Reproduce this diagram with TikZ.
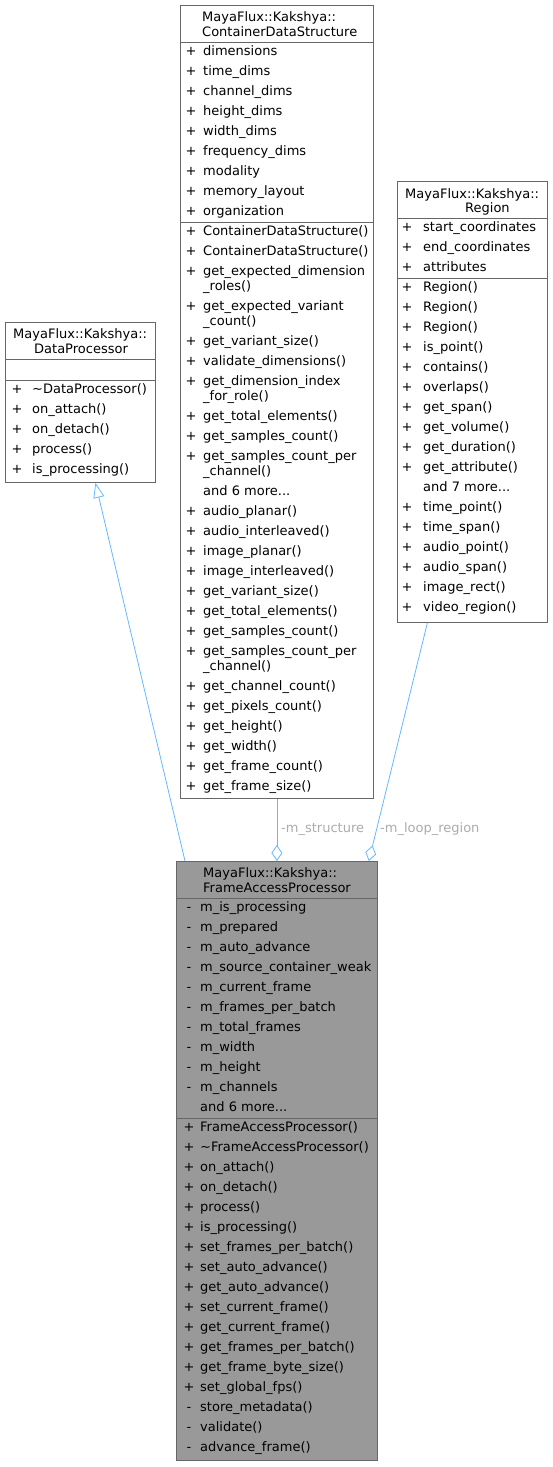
\documentclass[tikz,border=0pt]{standalone}
\usepackage{fontspec}
\setmainfont{DejaVu Sans}
\usepackage{xcolor}
\usetikzlibrary{arrows.meta}

\definecolor{boxline}{HTML}{666666}
\definecolor{boxgray}{HTML}{999999}
\definecolor{edgeblue}{HTML}{63B8FF}
\definecolor{labelgray}{HTML}{ABABAB}

\tikzset{
  classbox/.style={draw=boxline, line width=0.8pt, inner sep=0pt, anchor=north west},
  sepline/.style={draw=boxline, line width=0.8pt},
  member/.style={anchor=west, inner sep=0pt, text height=11pt, text depth=3pt},
  marker/.style={anchor=center, inner sep=0pt, text height=11pt, text depth=3pt},
  assoc/.style={draw=edgeblue, line width=0.8pt},
  rolelabel/.style={anchor=west, inner sep=0pt, text=labelgray},
}

% tre punti fuori dal \foreach
\newcommand{\etcdots}{...}

% righe di membri: prefisso, x segno, x nome, y prima riga, lista
\newcommand{\memberrows}[5]{%
  \foreach \mk/\nm [count=\i from 0] in {#5} {
    \node[marker] (#1k\i) at (#2,#4+20*\i) {\mk};
    \node[member] (#1n\i) at (#3,#4+20*\i) {\nm};
  }}

\begin{document}
\begin{tikzpicture}[x=1pt, y=-1pt, font=\fontsize{13}{15}\selectfont]
    \useasboundingbox (0,0) rectangle (553,1467);

    % Classe base
    \node[classbox, minimum width=150pt, minimum height=160pt] (dp) at (5,322) {};
    \node[member] (dpt1) at (13,334) {MayaFlux::Kakshya::};
    \node[member] (dpt2) at (34,349) {DataProcessor};
    \draw[sepline] (dp.west |- 0,359) -- (dp.east |- 0,359);
    \draw[sepline] (dp.west |- 0,380) -- (dp.east |- 0,380);
    \memberrows{dpm}{17}{32}{389}{+/\textasciitilde DataProcessor(), +/on\_attach(), +/on\_detach(), +/process(), +/is\_processing()}

    % Struttura del contenitore
    \node[classbox, minimum width=193pt, minimum height=793pt] (cds) at (180,5) {};
    \node[member] (cdst1) at (202,17) {MayaFlux::Kakshya::};
    \node[member] (cdst2) at (202,32) {ContainerDataStructure};
    \draw[sepline] (cds.west |- 0,42) -- (cds.east |- 0,42);
    \draw[sepline] (cds.west |- 0,222) -- (cds.east |- 0,222);
    \memberrows{cdsa}{191}{203}{51}{+/dimensions, +/time\_dims, +/channel\_dims, +/height\_dims, +/width\_dims, +/frequency\_dims, +/modality, +/memory\_layout, +/organization}
    \foreach \y/\mk/\nm in {231/+/ContainerDataStructure(), 251/+/ContainerDataStructure(),
        271/+/get\_expected\_dimension, 286/{}/\_roles(), 306/+/get\_expected\_variant, 321/{}/\_count(),
        341/+/get\_variant\_size(), 361/+/validate\_dimensions(), 381/+/get\_dimension\_index, 396/{}/\_for\_role(),
        416/+/get\_total\_elements(), 436/+/get\_samples\_count(), 456/+/get\_samples\_count\_per, 471/{}/\_channel(),
        491/{}/and 6 more\etcdots, 511/+/audio\_planar(), 531/+/audio\_interleaved(), 551/+/image\_planar(),
        571/+/image\_interleaved(), 591/+/get\_variant\_size(), 611/+/get\_total\_elements(), 631/+/get\_samples\_count(),
        651/+/get\_samples\_count\_per, 666/{}/\_channel(), 686/+/get\_channel\_count(), 706/+/get\_pixels\_count(),
        726/+/get\_height(), 746/+/get\_width(), 766/+/get\_frame\_count(), 786/+/get\_frame\_size()} {
      \node[marker] (cdsmk\y) at (191,\y) {\mk};
      \node[member] (cdsmn\y) at (203,\y) {\nm};
    }

    % Regione
    \node[classbox, minimum width=150pt, minimum height=441pt] (reg) at (397,181) {};
    \node[member] (regt1) at (405,194) {MayaFlux::Kakshya::};
    \node[member] (regt2) at (465,208) {Region};
    \draw[sepline] (reg.west |- 0,218) -- (reg.east |- 0,218);
    \draw[sepline] (reg.west |- 0,278) -- (reg.east |- 0,278);
    \memberrows{rga}{407}{423}{227}{+/start\_coordinates, +/end\_coordinates, +/attributes}
    \memberrows{rgm}{407}{423}{287}{+/Region(), +/Region(), +/Region(), +/is\_point(), +/contains(), +/overlaps(), +/get\_span(), +/get\_volume(), +/get\_duration(), +/get\_attribute(), {}/and 7 more\etcdots, +/time\_point(), +/time\_span(), +/audio\_point(), +/audio\_span(), +/image\_rect(), +/video\_region()}

    % Classe principale
    \node[classbox, fill=boxgray, minimum width=201pt, minimum height=599pt] (fap) at (176,861) {};
    \node[member] (fapt1) at (203,873) {MayaFlux::Kakshya::};
    \node[member] (fapt2) at (203,888) {FrameAccessProcessor};
    \draw[sepline] (fap.west |- 0,898) -- (fap.east |- 0,898);
    \draw[sepline] (fap.west |- 0,1118) -- (fap.east |- 0,1118);
    \memberrows{fapa}{189}{200}{907}{-/m\_is\_processing, -/m\_prepared, -/m\_auto\_advance, -/m\_source\_container\_weak, -/m\_current\_frame, -/m\_frames\_per\_batch, -/m\_total\_frames, -/m\_width, -/m\_height, -/m\_channels, {}/and 6 more\etcdots}
    \memberrows{fapm}{189}{200}{1127}{+/FrameAccessProcessor(), +/\textasciitilde FrameAccessProcessor(), +/on\_attach(), +/on\_detach(), +/process(), +/is\_processing(), +/set\_frames\_per\_batch(), +/set\_auto\_advance(), +/get\_auto\_advance(), +/set\_current\_frame(), +/get\_current\_frame(), +/get\_frames\_per\_batch(), +/get\_frame\_byte\_size(), +/set\_global\_fps(), -/store\_metadata(), -/validate(), -/advance\_frame()}

    % Collegamenti
    \draw[assoc, -{Triangle[open, length=15pt, width=11pt]}] ([xshift=9pt]fap.north west) -- ([xshift=15pt]dp.south);
    \draw[assoc, -{Diamond[open, length=16pt, width=11pt]}] (cds.south) -- (fap.north);
    \draw[assoc, -{Diamond[open, length=16pt, width=11pt]}] ([xshift=-45pt]reg.south) -- ([xshift=-9pt]fap.north east);
    \node[rolelabel] (lblstruct) at (281,829) {-m\_structure};
    \node[rolelabel] (lblloop) at (380,829) {-m\_loop\_region};
\end{tikzpicture}
\end{document}
